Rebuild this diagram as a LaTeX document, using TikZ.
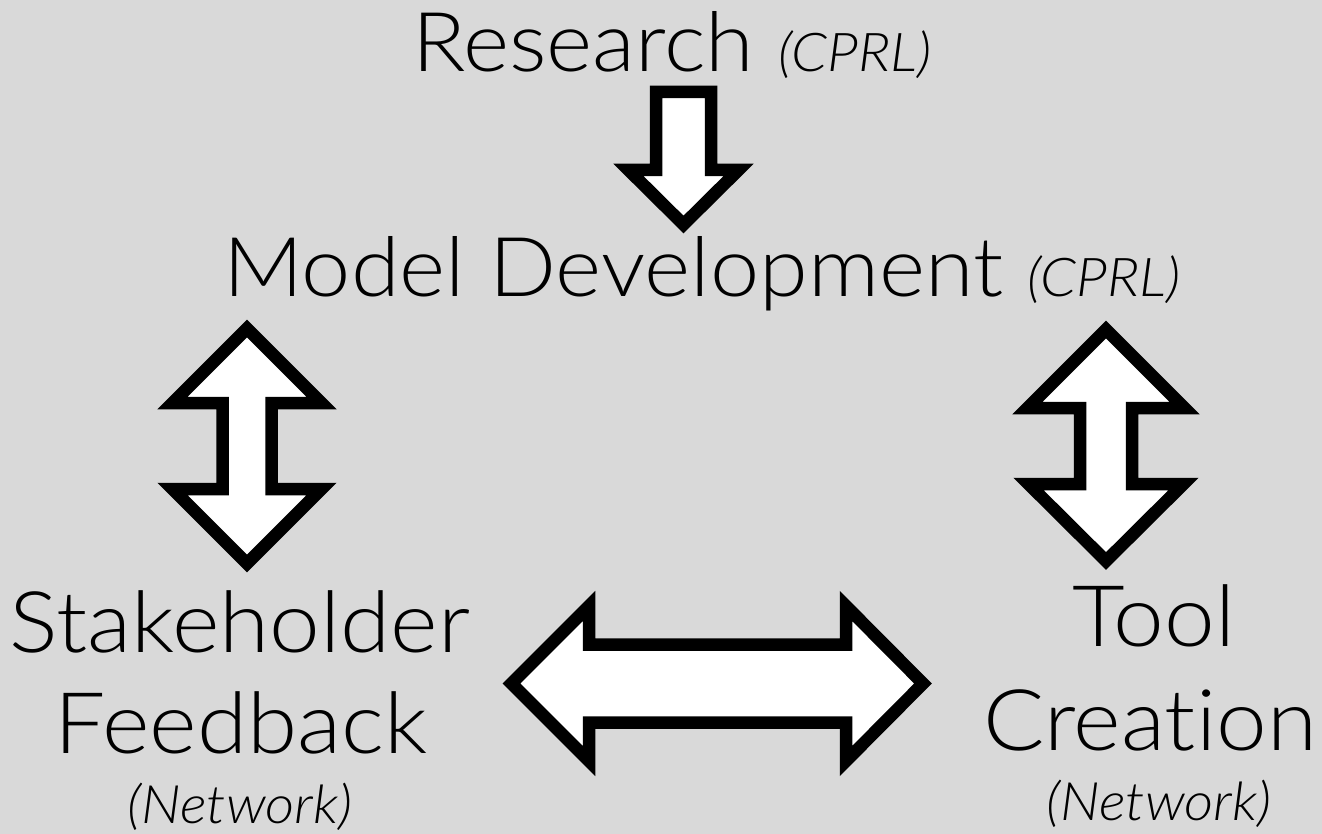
\documentclass[tikz,border=0pt]{standalone}
\usepackage{fontspec}
\setmainfont{Lato Light}[FakeStretch=1.07,Ligatures=NoCommon]
\definecolor{bg}{RGB}{217,217,217}
\begin{document}
\begin{tikzpicture}[x=1pt,y=-1pt,
  blockarrow/.style={draw=black,fill=white,line width=12.5pt,line join=miter,miter limit=10},
  big/.style={inner sep=0pt,font=\fontsize{85}{90}\selectfont},
  top/.style={inner sep=0pt,font=\fontsize{82.5}{90}\selectfont},
  small/.style={inner sep=0pt,font=\fontsize{53}{58}\selectfont\itshape}]
\fill[bg] (0,0) rectangle (1322,834);
\useasboundingbox (0,0) rectangle (1322,834);
% labels
\node[top,anchor=base west] (research) at (412,72) {Research {\fontsize{53.5}{60}\selectfont\itshape (CPRL)}};
\node[top,anchor=base west] (model) at (223,297) {Model Development {\fontsize{53.5}{60}\selectfont\itshape (CPRL)}};
\node[big,anchor=base] (stake) at (240,652) {Stakeholder};
\node[big,anchor=base] (feed) at (241,753) {Feedback};
\node[small,anchor=base] (net1) at (240,823) {(Network)};
\node[big,anchor=base] (tool) at (1154,646) {Tool};
\node[big,anchor=base] (creation) at (1150,750) {Creation};
\node[small,anchor=base] (net2) at (1159,820) {(Network)};
% down arrow research -> model
\draw[blockarrow] (656,92) -- (711,92) -- (711,170) -- (738.5,170) -- (683.5,224.5)
  -- (628.5,170) -- (656,170) -- cycle;
% left double arrow model <-> stakeholder
\draw[blockarrow] (247,328.5) -- (321.5,403) -- (271.5,403) -- (271.5,489) -- (321.5,489)
  -- (247,563.5) -- (172.5,489) -- (222.5,489) -- (222.5,403) -- (172.5,403) -- cycle;
% right double arrow model <-> tool
\draw[blockarrow] (1106,329.5) -- (1184.5,408) -- (1132,408) -- (1132,484) -- (1183.5,484)
  -- (1106,561) -- (1028.5,484) -- (1080,484) -- (1080,408) -- (1027.5,408) -- cycle;
% horizontal double arrow stakeholder <-> tool
\draw[blockarrow] (511.5,683.5) -- (589,606) -- (589,644.5) -- (846,644.5) -- (846,606)
  -- (923,683.5) -- (846,761) -- (846,722.5) -- (589,722.5) -- (589,761) -- cycle;
\end{tikzpicture}
\end{document}
